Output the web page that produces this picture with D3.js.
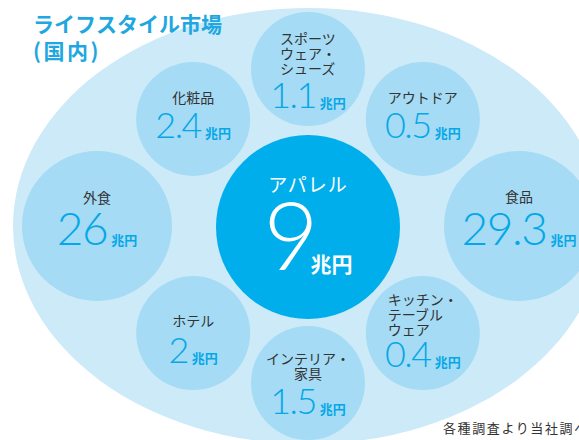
<!DOCTYPE html>
<html>
<head>
<meta charset="utf-8">
<script src="https://cdn.jsdelivr.net/npm/d3@7"></script>
<style>
  body { margin: 0; background: #fff; }
  svg { display: block; }
  .lbl { font-family: "Noto Sans CJK JP", sans-serif; font-size: 14px; fill: #333; }
  .num { font-family: Lato, "Noto Sans", sans-serif; font-weight: 300; fill: #04a7e7; }
  .unit { font-family: "Noto Sans CJK JP", sans-serif; font-weight: 700; }
</style>
</head>
<body>
<svg id="chart" width="579" height="440"></svg>
<script>
// データ
var categories = ["スポーツウェア・シューズ", "アウトドア", "食品", "キッチン・テーブルウェア",
                  "インテリア・家具", "ホテル", "外食", "化粧品"];
var labelLines = [["スポーツ", "ウェア・", "シューズ"], ["アウトドア"], ["食品"], ["キッチン・", "テーブル", "ウェア"],
                  ["インテリア・", "家具"], ["ホテル"], ["外食"], ["化粧品"]];
var values = ["1.1", "0.5", "29.3", "0.4", "1.5", "2", "26", "2.4"];
var unit = "兆円";
var centerCategory = "アパレル";
var centerValue = "9";
var titleLines = ["ライフスタイル市場", "(国内)"];
var note = "各種調査より当社調べ";

// レイアウト (位置・大きさ)
var slotAngle = [-90, -43, 0, 43, 90, 137, 180, -137];
var labelDy = [-25, -16, -24, -28, -19, -7, -23, -16];
var numDy = [39, 19, 19, 34, 31, 30, 19, 19];
var blockAlign = [true, false, false, true, false, false, false, false];

var svg = d3.select("#chart");
var cx = 308, cy = 226;

var rScale = d3.scaleThreshold().domain([10]).range([57, 75]);
var distScale = d3.scaleThreshold().domain([10]).range([157, 211]);
var fontScale = d3.scaleThreshold().domain([10]).range([36, 46]);
var angle = d3.scaleLinear().domain([0, 360]).range([0, 2 * Math.PI]);

var items = categories.map(function(c, i) {
  var v = +values[i];
  var a = angle(slotAngle[i]);
  return {
    name: c, lines: labelLines[i], value: values[i], v: v,
    x: cx + distScale(v) * Math.cos(a),
    y: cy + distScale(v) * Math.sin(a),
    r: rScale(v), i: i
  };
});

// 外側の楕円
svg.append("ellipse")
  .attr("cx", cx).attr("cy", cy)
  .attr("rx", 295).attr("ry", 218)
  .attr("fill", "#cdeaf9");

// 小さい円
var g = svg.selectAll("g.item")
  .data(items)
  .enter().append("g")
  .attr("class", "item")
  .attr("transform", d => `translate(${d.x},${d.y})`);

g.append("circle")
  .attr("r", d => d.r)
  .attr("fill", "#a5dbf4");

g.each(function(d) {
  var sel = d3.select(this);
  var t = sel.append("text").attr("class", "lbl");
  d.lines.forEach(function(line, k) {
    t.append("tspan").attr("x", 0).attr("y", labelDy[d.i] + k * 15).text(line);
  });
  if (blockAlign[d.i]) {
    var w = d3.max(t.selectAll("tspan").nodes(), n => n.getComputedTextLength());
    t.selectAll("tspan").attr("x", -w / 2);
  } else {
    t.attr("text-anchor", "middle");
  }

  var fs = fontScale(d.v);
  var n = sel.append("text").attr("class", "num")
    .attr("text-anchor", "middle")
    .attr("y", numDy[d.i])
    .style("font-size", fs + "px")
    .style("letter-spacing", "-1.5px");
  n.append("tspan").text(d.value);
  n.append("tspan").attr("class", "unit").attr("dx", 4)
    .style("font-size", "13px").style("letter-spacing", "0px")
    .text(unit);
});

// 中心の円
var cg = svg.append("g").attr("transform", `translate(${cx},227)`);
cg.append("circle").attr("r", 92).attr("fill", "#00aeec");
cg.append("text")
  .attr("class", "lbl")
  .attr("text-anchor", "middle")
  .attr("y", -35)
  .style("font-size", "19px")
  .style("letter-spacing", "1px")
  .style("fill", "#fff")
  .text(centerCategory);
var ct = cg.append("text")
  .attr("text-anchor", "middle")
  .attr("y", 43)
  .style("fill", "#fff");
ct.append("tspan").attr("class", "num")
  .style("fill", "#fff").style("font-size", "95px")
  .text(centerValue);
ct.append("tspan").attr("class", "unit")
  .attr("dx", -8).attr("dy", 2)
  .style("font-size", "21px")
  .text(unit);

// タイトル
svg.append("text")
  .attr("x", 33).attr("y", 32)
  .style("font-family", "'Noto Sans CJK JP', sans-serif")
  .style("font-weight", 700)
  .style("font-size", "21px")
  .style("fill", "#1ea7e0")
  .selectAll("tspan")
  .data(titleLines)
  .enter().append("tspan")
  .attr("x", 33)
  .attr("dy", (d, i) => i === 0 ? 0 : 27)
  .style("letter-spacing", (d, i) => i === 0 ? "0px" : "2.5px")
  .text(d => d);

// 注記
svg.append("text")
  .attr("x", 443).attr("y", 433)
  .style("font-family", "'Noto Sans CJK JP', sans-serif")
  .style("font-size", "13px")
  .style("letter-spacing", "1.6px")
  .style("fill", "#333")
  .text(note);
</script>
</body>
</html>
